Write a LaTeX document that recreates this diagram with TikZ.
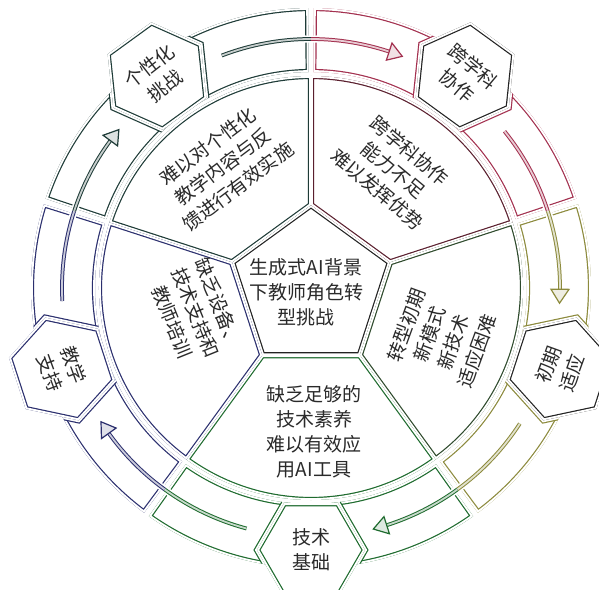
\documentclass[tikz,border=0pt]{standalone}
\usepackage{fontspec}
\setmainfont{Noto Sans CJK SC}
\usetikzlibrary{calc}
\definecolor{cA}{HTML}{1E3B37}
\definecolor{cB}{HTML}{A3304F}
\definecolor{cC}{HTML}{8C8A3C}
\definecolor{cD}{HTML}{1E6B2E}
\definecolor{cE}{HTML}{2B2F6E}
\definecolor{wB}{HTML}{5A1F2E}
\definecolor{wC}{HTML}{2E4A2C}
\definecolor{hx}{HTML}{222222}
\definecolor{txt}{HTML}{2A2A2A}
\tikzset{
  dl/.style={line width=1.2pt, double=white, double distance=3.8pt, line join=miter},
  arr/.style={draw=#1, double=#1!25, double distance=1.8pt, line width=1pt},
  lbl/.style={text=txt, align=center, font=\fontsize{19}{25}\selectfont, inner sep=0pt},
  hlbl/.style={text=txt, align=center, font=\fontsize{19}{25}\selectfont, inner sep=0pt}
}
\begin{document}
\begin{tikzpicture}
\useasboundingbox (-311pt,-301pt) rectangle (288pt,288pt);
\fill[white] (-311pt,-301pt) rectangle (288pt,288pt);
\clip (-311pt,-301pt) rectangle (288pt,288pt);

% centre pentagon
\def\ppath{(90:83pt) -- (162:83pt) -- (234:83pt) -- (306:83pt) -- (18:83pt) -- cycle}
\begin{scope}
  \clip \ppath;
  \draw[dl, draw=hx] \ppath;
\end{scope}

\foreach \a/\rc/\wc/\hc/\nc in {90/cA/cA/cA/cB, 18/cB/wB/hx/cC, -54/cC/wC/hx/cD, -126/cD/cD/cD/cE, 162/cE/cE/cE/cA} {
  \pgfmathsetmacro\b{\a+72}
  \pgfmathsetmacro\h{\a+36}
  \pgfmathsetmacro\sa{\a+0.6}
  \pgfmathsetmacro\sb{\a+71.4}
  \def\wpath{(\a:83pt) -- (\a:212pt) arc[start angle=\a, end angle=\b, radius=212pt] -- (\b:83pt) -- cycle}
  \def\rpath{(\sa:216pt) -- (\sa:280pt) arc[start angle=\sa, end angle=\sb, radius=280pt] -- (\sb:216pt) arc[start angle=\sb, end angle=\sa, radius=216pt] -- cycle}
  \def\hpath{(\h+30:54pt) -- (\h+90:54pt) -- (\h+150:54pt) -- (\h+210:54pt) -- (\h+270:54pt) -- (\h+330:54pt) -- cycle}
  % wheel region
  \begin{scope}
    \clip \wpath;
    \draw[dl, draw=\wc] \wpath;
  \end{scope}
  % ring sector with hexagon cut
  \begin{scope}
    \clip \rpath;
    \draw[dl, draw=\rc] \rpath;
    \begin{scope}[shift={(\h:262pt)}]
      \draw[dl, draw=\rc] \hpath;
    \end{scope}
  \end{scope}
}

% hexagons and arrows
\foreach \a/\rc/\hc/\nc in {90/cA/cA/cB, 18/cB/hx/cC, -54/cC/hx/cD, -126/cD/cD/cE, 162/cE/cE/cA} {
  \pgfmathsetmacro\h{\a+36}
  \def\hpath{(\h+30:54pt) -- (\h+90:54pt) -- (\h+150:54pt) -- (\h+210:54pt) -- (\h+270:54pt) -- (\h+330:54pt) -- cycle}
  \begin{scope}[shift={(\h:262pt)}]
    \fill[white] \hpath;
    \clip \hpath;
    \draw[dl, draw=\hc] \hpath;
  \end{scope}
  \pgfmathsetmacro\ts{\h-15}
  \pgfmathsetmacro\hb{\h-54.3}
  \pgfmathsetmacro\ht{\h-57.5}
  \draw[white, line width=7pt] (\ts:249pt) arc[start angle=\ts, end angle=\hb, radius=249pt];
  \draw[arr=\rc] (\ts:249pt) arc[start angle=\ts, end angle=\a, radius=249pt];
  \draw[arr=\nc] (\a:249pt) arc[start angle=\a, end angle=\hb, radius=249pt];
  \filldraw[draw=\nc, fill=\nc!15, line width=1.2pt, line join=miter] (\ht:249pt) -- (\hb:240pt) -- (\hb:258pt) -- cycle;
}

% texts
\node[lbl] (centre) at (-5pt,-4pt) {生成式AI背景\\下教师角色转\\型挑战};
\node[lbl, rotate=37] (t1) at (126:150pt) {难以对个性化\\教学内容与反\\馈进行有效实施};
\node[lbl, rotate=-40] (t2) at (55:144pt) {跨学科协作\\能力不足\\难以发挥优势};
\node[lbl, rotate=70] (t3) at (-21:140pt) {转型初期\\新模式\\新技术\\适应困难};
\node[lbl] (t4) at (3pt,-144pt) {缺乏足够的\\技术素养\\难以有效应\\用AI工具};
\node[lbl, rotate=-68] (t5) at (192:118pt) {缺乏设备、\\技术支持和\\教师培训};

\node[hlbl, rotate=38] (h1) at (126:262pt) {个性化\\挑战};
\node[hlbl, rotate=-40] (h2) at (54:262pt) {跨学科\\协作};
\node[hlbl, rotate=70] (h3) at (-18:262pt) {初期\\适应};
\node[hlbl] (h4) at (-90:262pt) {技术\\基础};
\node[hlbl, rotate=-70] (h5) at (198:262pt) {教学\\支持};
\end{tikzpicture}
\end{document}
